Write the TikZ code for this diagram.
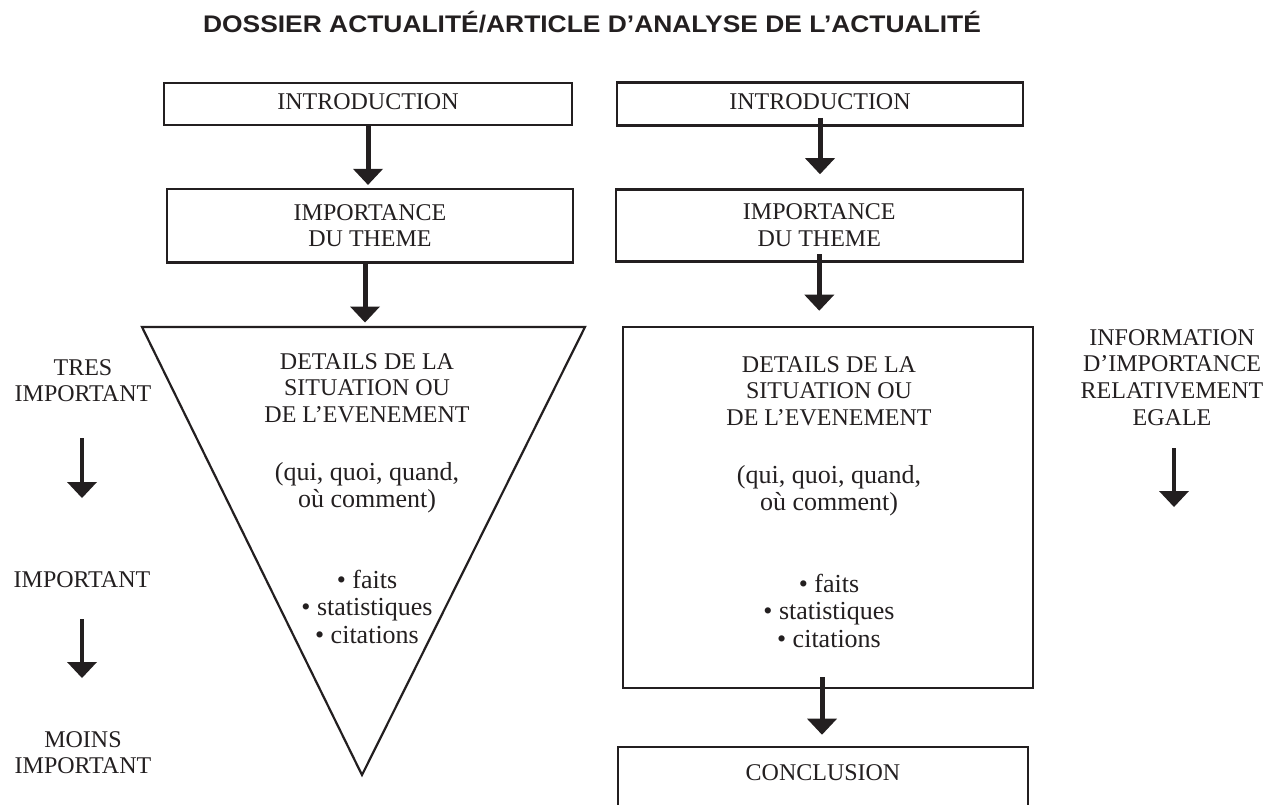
\documentclass[tikz,border=0pt]{standalone}
\usepackage{fontspec}
\usepackage{graphicx}
\setmainfont{Liberation Serif}
\newfontfamily\titlefont{Liberation Sans}
\usetikzlibrary{arrows.meta}
\definecolor{inkc}{HTML}{231F20}
\newcommand{\bodyfont}{\fontsize{24}{26.7}\selectfont}
\newcommand{\lowfont}{\fontsize{26}{27.5}\selectfont}
\begin{document}
\begin{tikzpicture}[x=1pt,y=-1pt,
  bx/.style={draw=inkc, line width=2.6pt, text=inkc, inner sep=0pt, align=center, font=\bodyfont},
  txt/.style={text=inkc, align=center, font=\bodyfont, inner sep=0pt, anchor=base},
  lowtxt/.style={txt, font=\lowfont},
  flow/.style={draw=inkc, line width=5pt, -{Triangle[width=30pt,length=16pt,line width=0pt]}},
  side/.style={draw=inkc, line width=4.5pt, -{Triangle[width=30pt,length=16pt,line width=0pt]}}]
\useasboundingbox (0,0) rectangle (1282,805);
\clip (0,0) rectangle (1282,805);

% title
\node[text=inkc, inner sep=0pt, anchor=base, font=\titlefont\bfseries\fontsize{24}{24}\selectfont] (title) at (592,33)
  {\scalebox{1.1}[1]{DOSSIER ACTUALITÉ/ARTICLE D’ANALYSE DE L’ACTUALITÉ}};

% left column
\node[bx, minimum width=408pt, minimum height=42pt, text height=16pt, text depth=5pt] (introL) at (368,104) {INTRODUCTION};
\node[bx, minimum width=406pt, minimum height=73pt] (impL) at (370,225.7) {IMPORTANCE\\DU THEME};
\coordinate (tl) at (142,327);
\coordinate (tr) at (585,327);
\coordinate (tb) at (362,775);
\coordinate (ttop) at (365,327);
\draw[draw=inkc, line width=2.2pt, line join=miter] (tl) -- (tr) -- (tb) -- cycle;
% (base anchor of a multi-line node = baseline of its last line)
\node[txt] (dL1) at (367,422.4) {DETAILS DE LA\\SITUATION OU\\DE L’EVENEMENT};
\node[lowtxt] (dL2) at (367,507.5) {(qui, quoi, quand,\\où comment)};
\node[lowtxt] (dL3) at (367,643) {• faits\\• statistiques\\• citations};

% right column
\node[bx, minimum width=406pt, minimum height=43pt, text height=16pt, text depth=5pt] (introR) at (820,104) {INTRODUCTION};
\node[bx, minimum width=407pt, minimum height=72pt] (impR) at (819.3,225.5) {IMPORTANCE\\DU THEME};
\node[bx, minimum width=410pt, minimum height=361pt] (det) at (828,507.5) {};
\node[txt] (dR1) at (829,425.4) {DETAILS DE LA\\SITUATION OU\\DE L’EVENEMENT};
\node[lowtxt] (dR2) at (829,510.5) {(qui, quoi, quand,\\où comment)};
\node[lowtxt] (dR3) at (829,647) {• faits\\• statistiques\\• citations};
\node[bx, minimum width=410pt, minimum height=100pt] (concl) at (823,797) {};
\node[txt] (conclT) at (823,780) {CONCLUSION};

% side labels
\node[txt] (tres) at (83,401.7) {TRES\\IMPORTANT};
\node[txt] (imp) at (82,587) {IMPORTANT};
\node[txt] (moins) at (83,773.7) {MOINS\\IMPORTANT};
\node[txt] (info) at (1172,425.1) {INFORMATION\\D’IMPORTANCE\\RELATIVEMENT\\EGALE};

% flow arrows
\draw[flow] (introL.south) -- ([yshift=3pt]introL.south |- impL.north);
\draw[flow] ([xshift=-5pt]impL.south) -- ([yshift=4.5pt]ttop);
\draw[flow] ([yshift=9pt]introR.south) -- ([yshift=14pt]introR.south |- impR.north);
\draw[flow] ([yshift=8.5pt]impR.south) -- ([yshift=15pt]impR.south |- det.north);
\draw[flow] ([xshift=-6pt,yshift=12pt]det.south) -- ([xshift=-6pt,yshift=11pt]det.south |- concl.north);

% side arrows
\coordinate (s1a) at (82,438);
\coordinate (s1b) at (82,498);
\coordinate (s2a) at (82,619);
\coordinate (s2b) at (82,678);
\coordinate (s3a) at (1174,448);
\coordinate (s3b) at (1174,507);
\draw[side] (s1a) -- (s1b);
\draw[side] (s2a) -- (s2b);
\draw[side] (s3a) -- (s3b);
\end{tikzpicture}
\end{document}
